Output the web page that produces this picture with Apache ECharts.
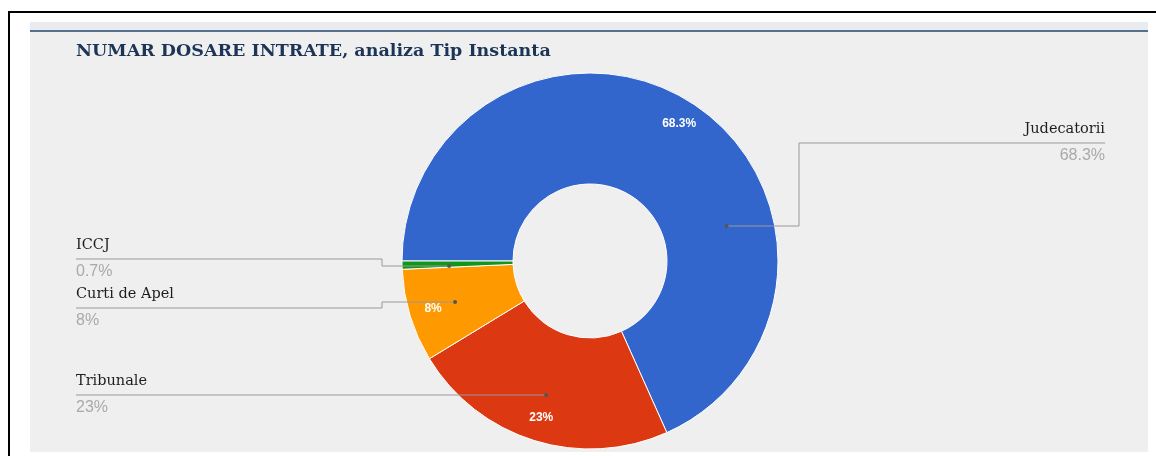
<!DOCTYPE html>
<html>
<head>
<meta charset="utf-8">
<script src="https://cdn.jsdelivr.net/npm/echarts@6/dist/echarts.min.js"></script>
<style>
  html, body { margin: 0; padding: 0; background: #fff; }
  #chart { width: 1156px; height: 456px; }
</style>
</head>
<body>
<div id="chart"></div>
<script>
  // data
  const categories = ['Judecatorii', 'Tribunale', 'Curti de Apel', 'ICCJ']
  const shares = [68.3, 23, 8, 0.7]
  const sliceColors = ['#3366cc', '#dc3912', '#ff9900', '#109618']
  const titleText = 'NUMAR DOSARE INTRATE, analiza Tip Instanta'

  // donut geometry (px)
  const CX = 590, CY = 261, R_IN = 77, R_OUT = 188, R_DOT = 141

  // where each outside label sits (google-style leader lines)
  const labelSlots = {
    'Judecatorii': { side: 'right', lineY: 143, dotY: 226 },
    'Tribunale': { side: 'left', lineY: 395, dotY: 395 },
    'Curti de Apel': { side: 'left', lineY: 308, dotY: 302 },
    'ICCJ': { side: 'left', lineY: 259, dotY: 266 }
  }

  const dotPoint = slot => {
    const dy = slot.dotY - CY
    const dx = Math.sqrt(R_DOT * R_DOT - dy * dy)
    return [slot.side === 'right' ? CX + dx : CX - dx, slot.dotY]
  }

  const chart = echarts.init(document.getElementById('chart'))

  const dots = categories.map(name => {
    const p = dotPoint(labelSlots[name])
    return {
      type: 'circle',
      z: 100,
      shape: { cx: p[0], cy: p[1], r: 2 },
      style: { fill: '#555' }
    }
  })

  const pieBase = {
    type: 'pie',
    center: [CX, CY],
    startAngle: 180,
    clockwise: true,
    avoidLabelOverlap: false,
    emphasis: { disabled: true }
  }

  const option = {
    animation: false,
    graphic: [
      // frame
      { type: 'rect', z: -10, shape: { x: 8, y: 11, width: 1148, height: 2 }, style: { fill: '#000' } },
      { type: 'rect', z: -10, shape: { x: 8, y: 11, width: 2, height: 445 }, style: { fill: '#000' } },
      // panel
      { type: 'rect', z: -10, shape: { x: 30, y: 22, width: 1118, height: 430 }, style: { fill: '#efefef' } },
      { type: 'rect', z: -9, shape: { x: 30, y: 22, width: 1118, height: 8 }, style: { fill: '#e8ebef' } },
      { type: 'rect', z: -9, shape: { x: 30, y: 30, width: 1118, height: 2 }, style: { fill: '#56718e' } },
      ...dots
    ],
    title: {
      text: titleText,
      left: 71,
      top: 37,
      textStyle: {
        fontFamily: 'DejaVu Serif',
        fontWeight: 'bold',
        fontSize: 17.5,
        color: '#1c3557'
      }
    },
    series: [
      {
        // slices
        ...pieBase,
        radius: [R_IN, R_OUT],
        itemStyle: { borderColor: '#ffffff', borderWidth: 1 },
        label: { show: false },
        labelLine: { show: false },
        data: categories.map((name, i) => ({
          name,
          value: shares[i],
          itemStyle: { color: sliceColors[i] }
        }))
      },
      {
        // inner percentage labels
        ...pieBase,
        radius: [134, R_OUT],
        silent: true,
        minShowLabelAngle: 5,
        itemStyle: { color: 'rgba(0,0,0,0)', borderWidth: 0 },
        label: {
          show: true,
          position: 'inside',
          formatter: '{c}%',
          fontFamily: 'Liberation Sans',
          fontWeight: 'bold',
          fontSize: 12,
          color: '#ffffff'
        },
        labelLine: { show: false },
        data: categories.map((name, i) => ({ name, value: shares[i] }))
      },
      {
        // outside labels with leader lines, drawn above the slices
        ...pieBase,
        z: 5,
        radius: [R_IN, R_OUT],
        silent: true,
        itemStyle: { color: 'rgba(0,0,0,0)', borderWidth: 0 },
        label: {
          show: true,
          position: 'outside',
          formatter: p => '{n|' + p.name + '}\n{v|' + p.value + '%}',
          rich: {
            n: { fontFamily: 'DejaVu Serif', fontSize: 14.5, color: '#1e1e1e', lineHeight: 26 },
            v: { fontFamily: 'Liberation Sans', fontSize: 16, color: '#a9a9a9', lineHeight: 28 }
          }
        },
        labelLine: {
          show: true,
          smooth: false,
          lineStyle: { color: '#999999', width: 1 }
        },
        labelLayout: p => {
          const slot = labelSlots[categories[p.dataIndex]]
          const d = dotPoint(slot)
          const right = slot.side === 'right'
          const elbowX = right ? 799 : 382
          const endX = right ? 1105 : 76
          return {
            x: endX,
            y: slot.lineY,
            align: right ? 'right' : 'left',
            verticalAlign: 'middle',
            labelLinePoints: [d, [elbowX, d[1]], [elbowX, slot.lineY], [endX, slot.lineY]]
          }
        },
        data: categories.map((name, i) => ({ name, value: shares[i] }))
      }
    ]
  }

  chart.setOption(option)

  window.addEventListener('resize', () => chart.resize())
</script>
</body>
</html>
